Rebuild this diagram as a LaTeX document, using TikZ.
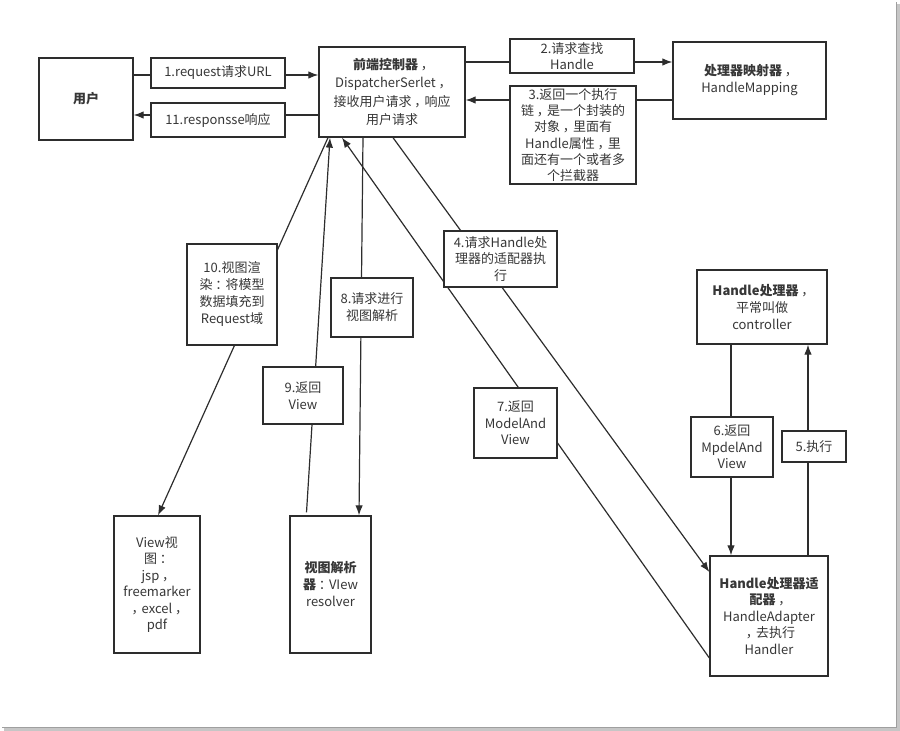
\documentclass[tikz,border=0pt]{standalone}
\usepackage{fontspec}
\setmainfont{Noto Sans CJK SC}
\newcommand\cm{\kern0.22em，\kern-0.22em}
\newcommand\cl{\kern0.22em：\kern-0.22em}
\usetikzlibrary{arrows.meta}
\definecolor{ink}{RGB}{45,45,45}
\definecolor{txt}{RGB}{55,55,55}
\pgfdeclarelayer{bg}
\pgfsetlayers{bg,main}
\begin{document}
\begin{tikzpicture}[x=1pt,y=-1pt,
  box/.style={draw=ink, line width=1.3pt, fill=white, text=txt, align=center, inner sep=0pt,
    font=\fontsize{13}{17}\selectfont},
  tight/.style={font=\fontsize{13}{16.5}\selectfont},
  conn/.style={draw=ink, line width=1.2pt},
  arr/.style={conn, -{Latex[length=10pt,width=7.5pt]}}]
\useasboundingbox (0,0) rectangle (900,731);
% outer frame (right and bottom edge with shadow)
\draw[gray!45, line width=2.5pt] (898.5,4) -- (898.5,729.5) -- (4,729.5);
\draw[gray!75, line width=1.2pt] (896.5,2) -- (896.5,727.5) -- (2,727.5);

% main boxes
\node[box, minimum width=94pt, minimum height=82pt] (user) at (86,99) {\textbf{用户}};
\node[box, minimum width=146pt, minimum height=90pt, font=\fontsize{13}{18.3}\selectfont] (DS) at (392,92)
  {\textbf{前端控制器}\cm\\DispatcherSerlet\cm\\接收用户请求\cm 响应\\用户请求};
\node[box, minimum width=153pt, minimum height=77pt] (HM) at (749.5,80.5)
  {\textbf{处理器映射器}\cm\\HandleMapping};
\node[box, minimum width=130pt, minimum height=74pt] (HP) at (762,307)
  {\textbf{Handle处理器}\cm\\平常叫做\\controller};
\node[box, tight, minimum width=118pt, minimum height=120pt] (HA) at (769,616)
  {\textbf{Handle处理器适}\\\textbf{配器}\cm\\HandleAdapter\\\cm 去执行\\Handler};
\node[box, tight, minimum width=86pt, minimum height=137pt] (View) at (157,584.5)
  {View视\\图\cl\\jsp\cm\\freemarker\\\cm excel\cm\\pdf};
\node[box, minimum width=81pt, minimum height=137pt] (VR) at (330.5,584.5)
  {\textbf{视图解析}\\\textbf{器}\cl VIew\\resolver};

% connector label boxes
\node[box, minimum width=134pt, minimum height=30pt] (l1) at (218,73) {1.request请求URL};
\node[box, minimum width=134pt, minimum height=34pt] (l11) at (218,120) {11.responsse响应};
\node[box, minimum width=124pt, minimum height=34pt, font=\fontsize{13}{16}\selectfont] (l2) at (572,56) {2.请求查找\\Handle};
\node[box, minimum width=126pt, minimum height=98pt, font=\fontsize{13}{16.3}\selectfont] (l3) at (573,135)
  {3.返回一个执行\\链\cm 是一个封装的\\对象\cm 里面有\\Handle属性\cm 里\\面还有一个或者多\\个拦截器};
\node[box, minimum width=113pt, minimum height=56pt, font=\fontsize{13}{16.5}\selectfont] (l4) at (500.5,259)
  {4.请求Handle处\\理器的适配器执\\行};
\node[box, minimum width=64pt, minimum height=31pt] (l5) at (814,446.5) {5.执行};
\node[box, minimum width=82pt, minimum height=60pt, font=\fontsize{13}{16.5}\selectfont] (l6) at (732,447)
  {6.返回\\MpdelAnd\\View};
\node[box, minimum width=83pt, minimum height=70pt, font=\fontsize{13}{16.5}\selectfont] (l7) at (515.5,423)
  {7.返回\\ModelAnd\\View};
\node[box, minimum width=82pt, minimum height=59pt] (l8) at (372,307.5) {8.请求进行\\视图解析};
\node[box, minimum width=80pt, minimum height=57pt] (l9) at (303,395.5) {9.返回\\View};
\node[box, minimum width=90pt, minimum height=101pt] (l10) at (232,294.5)
  {10.视图渲\\染\cl 将模型\\数据填充到\\Request域};

% connectors (behind the label boxes)
\begin{pgfonlayer}{bg}
\coordinate (c1) at ([yshift=17pt]DS.west);
\coordinate (c11) at ([yshift=-23pt]DS.west);
\coordinate (c2) at ([yshift=30pt]DS.east);
\coordinate (c3) at ([yshift=-8pt]DS.east);
\draw[arr] (c1 -| user.east) -- (c1);
\draw[arr] (c11) -- (c11 -| user.east);
\draw[arr] (c2) -- (c2 -| HM.west);
\draw[arr] (c3 -| HM.west) -- (c3);
% lower connectors
\draw[arr] ([xshift=-64pt]DS.south) -- ([xshift=1pt]View.north);
\draw[arr] ([xshift=-24pt, yshift=3pt]VR.north) -- ([xshift=-62pt]DS.south);
\draw[arr] ([xshift=-29pt]DS.south) -- ([xshift=28.5pt]VR.north);
\draw[arr] ([yshift=-42pt]HA.west) -- ([xshift=-50pt]DS.south);
\draw[arr] ([xshift=1pt]DS.south) -- ([yshift=44pt]HA.west);
\coordinate (c6) at ([xshift=-31pt]HP.south);
\draw[arr] (c6) -- (c6 |- HA.north);
\draw[arr] ([xshift=39pt]HA.north) -- ([xshift=46pt]HP.south);
\end{pgfonlayer}
\end{tikzpicture}
\end{document}
